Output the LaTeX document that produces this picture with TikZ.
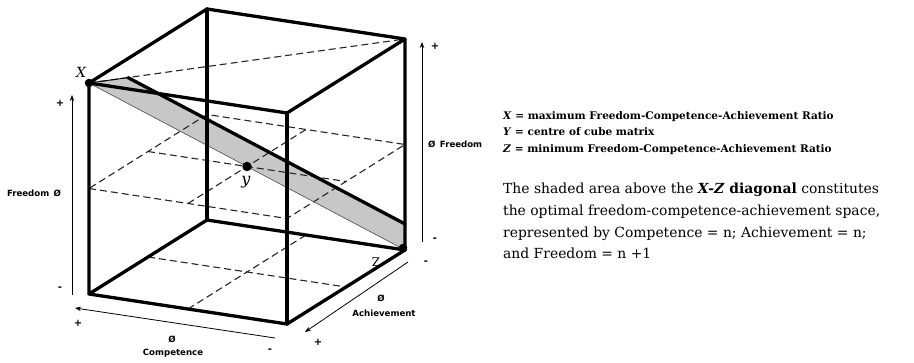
\documentclass[tikz,border=0pt]{standalone}
\usepackage{fontspec}
\setmainfont{DejaVu Serif}
\newfontfamily\labfont{DejaVu Sans}
\usetikzlibrary{arrows.meta}
\begin{document}
\begin{tikzpicture}[x=1pt,y=-1pt,
  edge/.style={line width=3.3pt, line cap=round, line join=round},
  hid/.style={line width=1.1pt, dash pattern=on 7pt off 4pt, black!85},
  axisline/.style={line width=0.8pt, -{Stealth[length=6pt,width=4.5pt]}},
  sign/.style={font=\labfont\bfseries\fontsize{10}{10}\selectfont, inner sep=0pt},
  axlab/.style={font=\labfont\bfseries\fontsize{8.6}{10}\selectfont, inner sep=0pt},
  vdot/.style={circle, fill=black, inner sep=0pt, minimum size=#1},
]
\useasboundingbox (0,0) rectangle (914,363);
% cube vertices
\coordinate (fbl) at (89,294);
\coordinate (bfr) at (287,324);
\coordinate (bbl) at (207,220);
\coordinate (Zc)  at (405,250);
\coordinate (Xc)  at (89,83);
\coordinate (tfr) at (287,113);
\coordinate (tbl) at (207,9);
\coordinate (tbr) at (405,39);
% mid-height plane
\coordinate (m1) at (89,188.5);
\coordinate (m2) at (287,218.5);
\coordinate (m3) at (405,144.5);
\coordinate (m4) at (207,114.5);
\coordinate (m5) at (148,151.5);
\coordinate (m6) at (346,181.5);
\coordinate (m7) at (188,203.5);
\coordinate (m8) at (306,129.5);
% bottom plane mid lines
\coordinate (b5) at (148,257);
\coordinate (b6) at (346,287);
\coordinate (b7) at (188,309);
\coordinate (b8) at (306,235);
% band
\coordinate (P1) at (128,77.6);
\coordinate (P2) at (405,224);

\fill[black!22] (Xc) -- (P1) -- (P2) -- (Zc) -- cycle;

% hidden / dashed lines
\draw[hid] (Xc) -- (tbr);
\draw[hid] (m1) -- (m2) -- (m3) -- (m4) -- cycle;
\draw[hid] (m5) -- (m6);
\draw[hid] (m7) -- (m8);
\draw[hid] (b5) -- (b6);
\draw[hid] (b7) -- (b8);

% band edges
\draw[line width=0.7pt, black!65] (Xc) -- (Zc);
\draw[line width=0.9pt] (Xc) -- (P1);
\draw[edge] (P1) -- (P2);

% cube edges
\draw[edge] (tbl) -- (bbl);
\draw[edge] (fbl) -- (bbl) -- (Zc);
\draw[edge] (Xc) -- (tbl) -- (tbr) -- (tfr) -- (Xc);
\draw[edge] (Xc) -- (fbl) -- (bfr) -- (Zc) -- (tbr);
\draw[edge] (tfr) -- (bfr);

% points
\node[vdot=8.5pt] (X) at (Xc) {};
\node[vdot=9.5pt] (Y) at (247,166.5) {};
\node[vdot=8.5pt] (Z) at (403,248) {};
\node[font=\itshape\fontsize{14}{14}\selectfont, inner sep=0pt] (Xl) at (81,72) {X};
\node[font=\itshape\fontsize{16}{16}\selectfont, inner sep=0pt] (Yl) at (246,182) {y};
\node[font=\fontsize{12}{12}\selectfont, inner sep=0pt] (Zl) at (376,262) {Z};

% axes
\coordinate (fa1) at (72,295); \coordinate (fa2) at (72,95);
\draw[axisline] (fa1) -- (fa2);
\node[sign] (fp) at (60,103) {+};
\node[sign] (fm) at (60,289) {-};
\node[axlab] (fl) at (34,193) {Freedom \,Ø};

\coordinate (ga1) at (422,242); \coordinate (ga2) at (422,42);
\draw[axisline] (ga1) -- (ga2);
\node[sign] (gp) at (435,46) {+};
\node[sign] (gm) at (435,240) {-};
\node[axlab, anchor=west] (gl) at (428,144) {Ø \,Freedom};

\coordinate (ca1) at (275,338); \coordinate (ca2) at (75,308);
\draw[axisline] (ca1) -- (ca2);
\node[sign] (cp) at (78,323) {+};
\node[sign] (cm) at (270,351) {-};
\node[axlab] (cz) at (172,339) {Ø};
\node[axlab] (cl) at (173,353) {Competence};

\coordinate (aa1) at (408,262); \coordinate (aa2) at (305,332);
\draw[axisline] (aa1) -- (aa2);
\node[sign] (ap) at (318,342) {+};
\node[sign] (am) at (426,263) {-};
\node[axlab] (az) at (381,298) {Ø};
\node[axlab] (al) at (384,313) {Achievement};

% legend
\node[anchor=north west, align=left, inner sep=0pt,
      font=\bfseries\fontsize{10.5}{16.5}\selectfont] (leg) at (503,111)
 {\textit{X} = maximum Freedom-Competence-Achievement Ratio\\
  \textit{Y} = centre of cube matrix\\
  \textit{Z} = minimum Freedom-Competence-Achievement Ratio};

\node[anchor=north west, align=left, inner sep=0pt,
      font=\fontsize{13.9}{21.7}\selectfont] (par) at (503,183)
 {The shaded area above the \textbf{\textit{X-Z} diagonal} constitutes\\
  the optimal freedom-competence-achievement space,\\
  represented by Competence = n; Achievement = n;\\
  and Freedom = n +1};
\end{tikzpicture}
\end{document}
